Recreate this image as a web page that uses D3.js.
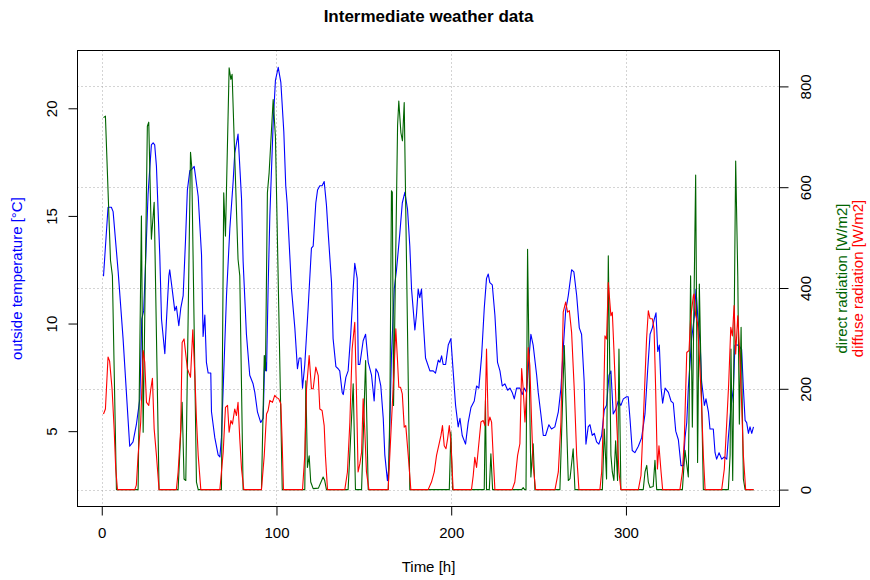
<!DOCTYPE html>
<html>
<head>
<meta charset="utf-8">
<script src="https://cdn.jsdelivr.net/npm/d3@7"></script>
<style>
  body { margin: 0; background: #fff; }
  svg { display: block; font-family: 'Liberation Sans', Arial, Helvetica, sans-serif; }
</style>
</head>
<body>
<svg id="chart" width="870" height="580"></svg>
<script>
// [hour, °C]
const temperature = [
  [1,12.2],[3.6,15.4],[5.5,15.4],[6.5,15.2],[9.4,12.4],[12.2,9.3],[16,4.3],[17.9,4.5],[19.8,5.3],[21.8,6.5],
  [22.9,10.2],[24,10.6],[24.8,12.2],[26.5,16.0],[28.4,18.3],[29.4,18.4],[30.3,18.3],[31.3,17.3],[33.2,13.2],[34.2,10.2],
  [36.1,8.6],[37,10.1],[38.4,12.2],[38.9,12.5],[40.3,11.6],[41.8,10.6],[42.7,10.8],[44.1,9.9],[45.2,10.7],[46.6,11.3],
  [47.9,13.8],[49,16.2],[50.4,17.1],[51.9,17.2],[52.9,17.3],[55.2,15.9],[57.1,13.2],[58,9.4],[59,10.4],[59.9,8.2],
  [60.9,7.7],[62.4,7.7],[62.8,5.9],[64.7,4.7],[66.6,3.9],[67.6,3.8],[68.5,4.7],[69.5,7.0],[71.4,11.3],[73.3,14.4],
  [75.2,16.6],[76.1,17.9],[78,18.8],[80,15.8],[80.9,12.9],[82.8,9.5],[84.7,7.6],[86.6,7.2],[87.6,6.8],[89.1,5.9],
  [91,5.4],[92.4,5.6],[93.3,8.5],[94.3,7.8],[95.2,11.6],[96.2,15],[98.1,19.3],[99.4,21.3],[101,21.9],[102.5,21.2],
  [104.2,18.9],[105.3,16.4],[106.1,15.6],[107.6,13.2],[108.6,11.6],[110.5,9.8],[112,7.9],[113,8.4],[114,8.4],[114.9,7.0],
  [116.2,8.1],[118.1,10.7],[120,13.5],[121,13.6],[122.5,15.6],[123.5,16.2],[124.8,16.4],[126.1,16.4],[127.3,16.6],[128.6,15.5],
  [129.6,14.2],[131.5,11.9],[132.4,9.3],[134,8.0],[135.3,7.9],[136.2,7.8],[137.6,6.8],[138.2,6.7],[139.7,7.5],[141,7.8],
  [142.5,9.5],[143.9,11.6],[144.8,12.8],[146.2,12.1],[146.8,8.1],[147.7,8.1],[149.6,9.2],[151,9.5],[152.5,8.2],[154.4,7.6],
  [155.9,6.4],[156.9,7.9],[158.2,7.7],[159.7,7.1],[161.1,5.6],[162,3.9],[163.5,2.7],[164.3,3.3],[165.8,8.5],[167.4,11.6],
  [168.7,12.5],[170.6,14.2],[172,15.6],[173.5,16.1],[175,15.3],[176.3,13.6],[177.3,11.6],[179.2,9.7],[180.1,10.4],[181.1,11.6],
  [182,11.2],[183,11.6],[184,10.1],[185.3,8.4],[187.8,7.8],[189.7,7.8],[191,7.7],[192.6,8.3],[193.5,8.2],[194.5,8.5],
  [195.4,8.1],[196.8,8.1],[198.3,9.0],[199.8,9.3],[201.1,7.8],[202.5,6.2],[204,5.2],[205,5.6],[206.3,4.8],[208.2,4.4],
  [209.7,5.4],[211.3,6.1],[213.2,6.4],[214.5,7.1],[215.8,7.0],[217.4,8.5],[218.9,10.7],[220.2,12.1],[221.2,12.3],[222.1,11.9],
  [223.5,11.8],[225,10.4],[226.5,8.2],[227.9,7.8],[229.2,7.1],[230.7,7.2],[232.3,6.9],[233.6,7.0],[234.9,6.8],[236.1,6.5],
  [237.4,7.0],[239.3,7.0],[240.6,6.7],[241.8,7.0],[243.1,6.8],[244.5,8.4],[245.6,9.5],[246.9,9.0],[248.9,7.6],[249.8,6.8],
  [251.3,5.8],[252.7,4.8],[254,4.8],[255.9,5.3],[257.4,5.1],[259.3,5.2],[261.3,5.9],[262.8,7.0],[264.1,8.8],[265.5,10.6],
  [267,11.3],[268.9,12.5],[270.2,12.4],[271.8,11.3],[273.3,9.8],[274.6,9.5],[276.1,7.3],[277.1,4.4],[278.4,5.2],[279.4,5.3],
  [280.7,4.8],[281.9,4.9],[283.2,4.5],[284.5,4.4],[286.1,4.8],[287.6,6.0],[288.9,6.2],[290.3,7.6],[291.4,7.8],[292.7,5.8],
  [294.1,6.0],[295.6,6.4],[297.1,6.2],[298.5,6.5],[300.4,6.6],[301.3,6.6],[302.3,5.6],[303.6,4.1],[305.1,4.0],[307.1,4.3],
  [309,4.7],[310.9,5.8],[312.4,7.8],[313.8,9.5],[315.1,9.8],[316.2,10.2],[317.2,10.5],[318.2,8.7],[319.1,9.0],[320.1,7.0],
  [321,6.3],[322.4,7.0],[324.3,6.8],[325.8,6.4],[327.1,6.3],[328.5,5.0],[330,4.6],[331.5,3.4],[332.9,3.4],[333.8,4.7],
  [334.8,5.4],[335.7,7.0],[337.6,9.3],[339.1,10.3],[340.1,11.6],[341.1,10.3],[342.4,9.2],[343.3,7.3],[344.9,6.2],[345.8,6.5],
  [347.2,5.9],[348.1,5.1],[350,5.1],[351,4.0],[351.9,3.7],[353.3,4.0],[354.8,3.7],[356.3,3.8],[357.7,3.7],[358.6,4.7],
  [360.1,6.1],[361.5,7.0],[362.4,9.0],[364,9.0],[365.3,8.9],[366.2,8.8],[367.2,7.0],[368.2,5.5],[369.1,5.4],[370.1,4.9],
  [371,5.2],[372,4.9],[373,5.2]
];

// [hour, W/m2]
const directRad = [
  [1,738],[2.1,741],[5,455],[6.1,424],[8.4,0],[20.8,0],[22.7,543],[23.7,114],[26.1,721],[26.9,729],
  [28.4,497],[30,570],[32.8,0],[43.7,0],[46,173],[47.1,21],[48.1,18],[50.8,669],[51.5,640],[54.2,15],
  [55.2,0],[68.5,0],[69.8,589],[70.8,503],[72.9,837],[73.9,814],[74.6,824],[78,457],[79,424],[80.9,0],
  [91.4,0],[93,266],[93.7,236],[94.8,589],[95.8,629],[98.1,774],[99.4,700],[103.3,0],[116.2,0],[116.8,216],
  [117.7,44],[118.7,67],[119.6,15],[121,2],[124,3],[126.7,25],[127.6,18],[128.6,0],[141,0],[143.9,210],
  [145.2,0],[148.7,0],[151,256],[152.5,0],[164,0],[164.9,160],[165.8,593],[166.3,590],[167,167],[169.3,722],
  [170,771],[171.2,708],[172.1,692],[173.1,768],[176.3,0],[198.9,0],[199.8,114],[200.8,0],[218.9,0],[219.6,177],
  [220.2,0],[221.8,0],[222.7,71],[223.7,0],[240.3,0],[241.2,4],[242,0],[242.8,0],[243.7,477],[244.5,266],
  [245.6,25],[246.9,91],[247.9,0],[262.2,0],[264.7,286],[267,18],[268,22],[269.8,81],[270.8,0],[286.5,0],
  [287.6,120],[288.9,21],[289.9,464],[291.4,68],[292.2,35],[293.1,18],[294.1,97],[295.2,18],[296,279],[297.1,0],
  [309.9,0],[310.9,35],[311.9,48],[312.8,15],[313.8,4],[315.6,6],[316.6,58],[317.6,0],[332.3,0],[333.8,78],
  [335.7,25],[337,424],[338,124],[339.9,624],[341,54],[342,408],[344.3,0],[358.6,0],[359.6,68],[360.1,279],
  [361.1,18],[362.8,652],[364,424],[364.9,130],[365.9,322],[367.2,21],[368.2,0],[373,0]
];

// [hour, W/m2]
const diffuseRad = [
  [1,150],[2.1,160],[3.6,263],[4.5,255],[5.9,200],[7.1,120],[8,41],[9,0],[18.9,0],[19.8,9],
  [20.8,68],[22.3,134],[23.7,276],[24.6,253],[25.6,173],[26.9,167],[28.1,200],[29,221],[30,120],[31.3,68],
  [32.8,0],[42.7,0],[43.7,35],[45.2,120],[46,292],[47.1,299],[49,240],[50.8,223],[52.1,317],[53.3,226],
  [54.2,140],[55.2,68],[56.7,0],[67.6,0],[69.5,74],[70.8,163],[72,167],[72.9,114],[73.9,137],[74.8,130],
  [76.1,160],[77.1,147],[78,173],[79,100],[80,41],[81.3,0],[91.4,0],[93,68],[94.3,150],[95.2,157],
  [96.2,177],[97.7,173],[99,187],[100,183],[101.3,180],[102.5,170],[103.2,100],[104,0],[114.9,0],[116.2,68],
  [117.2,200],[118.7,266],[120,200],[121,200],[122.5,243],[123.9,226],[124.8,160],[126.1,157],[127.3,127],[128,68],
  [129.2,0],[139.1,0],[140.6,35],[142,134],[143.3,279],[144.8,332],[145.8,187],[146.7,35],[147.7,51],[148.7,74],
  [149.6,180],[150.5,120],[151.5,35],[152.9,0],[163.9,0],[165.8,134],[167.4,246],[168.3,319],[169.3,253],[170,203],
  [171,203],[172,190],[173.1,124],[174,127],[175.4,68],[176.9,0],[186.8,0],[188.7,15],[190.3,35],[191.6,68],
  [193.1,91],[194.1,107],[195,127],[196,87],[197,81],[197.9,100],[198.9,127],[199.8,94],[201.1,0],[211.6,0],
  [212.6,28],[213.5,64],[214.5,44],[215.5,80],[217,134],[218.3,137],[219.3,127],[220.2,279],[221.2,127],[222.1,144],
  [223.1,134],[224,68],[225,0],[234.9,0],[236.4,15],[238,68],[239.3,91],[240.3,240],[241.2,200],[242.2,134],
  [243.2,200],[244.1,282],[245,246],[246,134],[246.9,48],[248.3,0],[259.4,0],[261.3,35],[262.8,134],[264.1,352],
  [265.5,372],[266.6,352],[267.6,355],[268.9,312],[270.4,200],[271.8,68],[273.1,0],[285.1,0],[286.1,35],[287,134],
  [288,305],[288.9,299],[289.9,411],[291.4,345],[292.2,352],[293.1,279],[294.7,134],[296,35],[297.1,0],[307.1,0],
  [308.6,28],[309.9,134],[311.8,299],[312.8,355],[313.8,339],[315.1,339],[316.1,319],[317,200],[318,41],[318.9,87],
  [320.1,35],[321,0],[330.9,0],[332.3,35],[333.4,100],[334.8,272],[336.1,276],[337,339],[338.6,385],[339,388],
  [339.9,346],[340.9,332],[342,266],[343.3,167],[344.3,68],[345.3,0],[354.8,0],[356.3,41],[357.7,134],[358.8,210],
  [360,322],[360.9,305],[361.9,365],[362.8,269],[364,345],[364.9,286],[365.9,200],[367.2,68],[368.5,0],[373,0]
];

const timeTicks = [0, 100, 200, 300];
const tempTicks = [5, 10, 15, 20];
const radTicks = [0, 200, 400, 600, 800];

const W = 870, H = 580;
const box = { left: 77.5, right: 779.5, top: 50.5, bottom: 506.5 };

// R style: data range padded by 4% on each side
function pad(ext) {
  const d = (ext[1] - ext[0]) * 0.04;
  return [ext[0] - d, ext[1] + d];
}

const svg = d3.select('#chart');
svg.append('rect').attr('width', W).attr('height', H).attr('fill', '#fff');

const x = d3.scaleLinear()
  .domain(pad(d3.extent(temperature, (d) => d[0])))
  .range([box.left, box.right]);
const yT = d3.scaleLinear().domain(pad([2.285, 21.9])).range([box.bottom, box.top]);
const yR = d3.scaleLinear().domain(pad([0, 837.7])).range([box.bottom, box.top]);

// grid (dotted, gray)
const grid = svg.append('g')
  .attr('stroke', '#a8a8a8')
  .attr('stroke-width', 1)
  .attr('stroke-dasharray', '1,3');
grid.selectAll('.gx').data(timeTicks).join('line')
  .attr('x1', (d) => Math.round(x(d)) + 0.5).attr('x2', (d) => Math.round(x(d)) + 0.5)
  .attr('y1', box.top).attr('y2', box.bottom);
grid.selectAll('.gy').data(radTicks).join('line')
  .attr('x1', box.left).attr('x2', box.right)
  .attr('y1', (d) => Math.round(yR(d)) + 0.5).attr('y2', (d) => Math.round(yR(d)) + 0.5);

// series
const lineT = d3.line().x((d) => x(d[0])).y((d) => yT(d[1]));
const lineR = d3.line().x((d) => x(d[0])).y((d) => yR(d[1]));

svg.append('path').datum(temperature)
  .attr('fill', 'none').attr('stroke', '#0000ff').attr('stroke-width', 1.1)
  .attr('stroke-linejoin', 'round').attr('d', lineT);
svg.append('path').datum(directRad)
  .attr('fill', 'none').attr('stroke', '#006400').attr('stroke-width', 1.1)
  .attr('stroke-linejoin', 'round').attr('d', lineR);
svg.append('path').datum(diffuseRad)
  .attr('fill', 'none').attr('stroke', '#ff0000').attr('stroke-width', 1.1)
  .attr('stroke-linejoin', 'round').attr('d', lineR);

// box
svg.append('rect')
  .attr('x', box.left).attr('y', box.top)
  .attr('width', box.right - box.left).attr('height', box.bottom - box.top)
  .attr('fill', 'none').attr('stroke', '#000').attr('stroke-width', 1);

// axes
const fontSize = 15;

const xAxis = svg.append('g')
  .attr('transform', `translate(0,${box.bottom})`)
  .call(d3.axisBottom(x).tickValues(timeTicks).tickSize(9).tickFormat(d3.format('d')));
xAxis.select('.domain').remove();
xAxis.selectAll('text').attr('y', 31).attr('dy', null)
  .attr('font-size', fontSize).attr('font-family', null);

const leftAxis = svg.append('g')
  .attr('transform', `translate(${box.left},0)`)
  .call(d3.axisLeft(yT).tickValues(tempTicks).tickSize(9));
leftAxis.select('.domain').remove();
leftAxis.selectAll('text')
  .attr('transform', 'rotate(-90)')
  .attr('x', 0).attr('y', -26).attr('dy', '0.35em')
  .attr('text-anchor', 'middle')
  .attr('font-size', fontSize).attr('font-family', null);

const rightAxis = svg.append('g')
  .attr('transform', `translate(${box.right},0)`)
  .call(d3.axisRight(yR).tickValues(radTicks).tickSize(9));
rightAxis.select('.domain').remove();
rightAxis.selectAll('text')
  .attr('transform', 'rotate(-90)')
  .attr('x', 0).attr('y', 26.5).attr('dy', '0.35em')
  .attr('text-anchor', 'middle')
  .attr('font-size', fontSize).attr('font-family', null);

svg.selectAll('.tick line').attr('stroke', '#000');
svg.selectAll('.tick text').attr('fill', '#000');

// titles
const midY = (box.top + box.bottom) / 2;
svg.append('text')
  .attr('x', (box.left + box.right) / 2).attr('y', 22)
  .attr('text-anchor', 'middle').attr('font-size', 17).attr('font-weight', 'bold')
  .text('Intermediate weather data');

svg.append('text')
  .attr('x', (box.left + box.right) / 2).attr('y', 572)
  .attr('text-anchor', 'middle').attr('font-size', fontSize)
  .text('Time [h]');

function sideLabel(cx, color, label) {
  svg.append('text')
    .attr('transform', `translate(${cx},${midY}) rotate(-90)`)
    .attr('dy', '0.35em')
    .attr('text-anchor', 'middle').attr('font-size', fontSize)
    .attr('fill', color)
    .text(label);
}
sideLabel(17, '#0000ff', 'outside temperature [°C]');
sideLabel(842, '#006400', 'direct radiation [W/m2]');
sideLabel(858, '#ff0000', 'diffuse radiation [W/m2]');
</script>
</body>
</html>
